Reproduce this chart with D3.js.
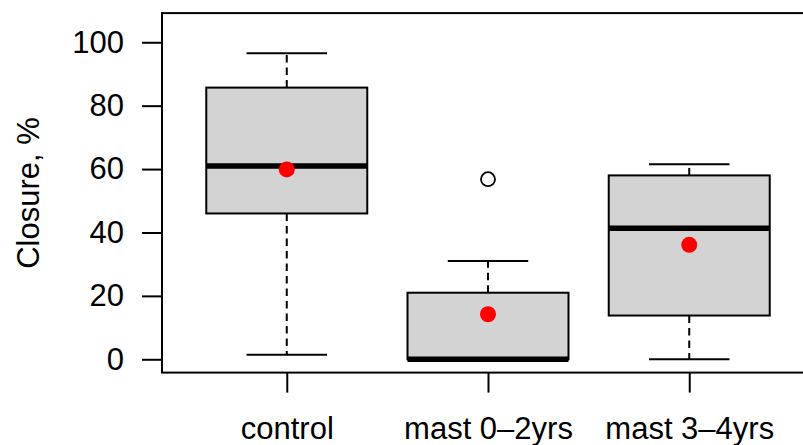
<!DOCTYPE html>
<html>
<head>
<meta charset="utf-8">
<script src="https://cdn.jsdelivr.net/npm/d3@7"></script>
<style>
  body { margin: 0; background: #fff; }
  text { font-family: "Liberation Sans", Arial, sans-serif; fill: #000; }
</style>
</head>
<body>
<div id="chart"></div>
<script>
// groups and summary stats
const categories = ['control', 'mast 0–2yrs', 'mast 3–4yrs'];
const lowerWhisker = [1.4, 0, 0];
const q1 = [46, 0, 13.8];
const median = [61, 0, 41.3];
const q3 = [85.7, 21, 58];
const upperWhisker = [96.5, 31, 61.5];
const means = [59.9, 14.2, 36.1];
const outlierGroups = ['mast 0–2yrs'];
const outlierValues = [56.8];
const yTicks = [0, 20, 40, 60, 80, 100];

const width = 803, height = 445;
const fontSize = 31;

const svg = d3.select('#chart')
  .append('svg')
  .attr('width', width)
  .attr('height', height);

// R-style axis: categories at 1..n, limits padded by 4%
const x = d3.scaleLinear()
  .domain([0.38, 3.62])
  .range([162, 814]);

const y = d3.scaleLinear()
  .domain([-4.2, 109.2])
  .range([372.6, 13.1]);

const xPos = c => x(categories.indexOf(c) + 1);
const boxHalf = x(1.4) - x(1);
const capHalf = x(1.2) - x(1);

const data = categories.map((c, i) => ({
  cat: c,
  lo: lowerWhisker[i], q1: q1[i], med: median[i], q3: q3[i], hi: upperWhisker[i], mean: means[i]
}));

const g = svg.append('g');

// whiskers (dashed)
g.selectAll('.whisk-lo')
  .data(data)
  .enter().append('line')
  .attr('x1', d => xPos(d.cat)).attr('x2', d => xPos(d.cat))
  .attr('y1', d => y(d.q1)).attr('y2', d => y(d.lo))
  .attr('stroke', '#000').attr('stroke-width', 2)
  .attr('stroke-dasharray', '7.5,5');

g.selectAll('.whisk-hi')
  .data(data)
  .enter().append('line')
  .attr('x1', d => xPos(d.cat)).attr('x2', d => xPos(d.cat))
  .attr('y1', d => y(d.q3)).attr('y2', d => y(d.hi))
  .attr('stroke', '#000').attr('stroke-width', 2)
  .attr('stroke-dasharray', '7.5,5');

// staples
['lo', 'hi'].forEach(k => {
  g.selectAll('.cap-' + k)
    .data(data)
    .enter().append('line')
    .attr('x1', d => xPos(d.cat) - capHalf).attr('x2', d => xPos(d.cat) + capHalf)
    .attr('y1', d => y(d[k])).attr('y2', d => y(d[k]))
    .attr('stroke', '#000').attr('stroke-width', 2);
});

// boxes
g.selectAll('.box')
  .data(data)
  .enter().append('rect')
  .attr('x', d => xPos(d.cat) - boxHalf)
  .attr('width', boxHalf * 2)
  .attr('y', d => y(d.q3))
  .attr('height', d => y(d.q1) - y(d.q3))
  .attr('fill', '#d3d3d3')
  .attr('stroke', '#000')
  .attr('stroke-width', 2);

// medians
g.selectAll('.median')
  .data(data)
  .enter().append('line')
  .attr('x1', d => xPos(d.cat) - boxHalf).attr('x2', d => xPos(d.cat) + boxHalf)
  .attr('y1', d => y(d.med)).attr('y2', d => y(d.med))
  .attr('stroke', '#000').attr('stroke-width', 5.5);

// outliers
g.selectAll('.outlier')
  .data(outlierValues)
  .enter().append('circle')
  .attr('cx', (d, i) => xPos(outlierGroups[i]))
  .attr('cy', d => y(d))
  .attr('r', 7)
  .attr('fill', 'none')
  .attr('stroke', '#000')
  .attr('stroke-width', 1.8);

// means
g.selectAll('.mean')
  .data(data)
  .enter().append('circle')
  .attr('cx', d => xPos(d.cat))
  .attr('cy', d => y(d.mean))
  .attr('r', 8)
  .attr('fill', '#ff0000');

// frame
svg.append('rect')
  .attr('x', 162).attr('y', 13.1)
  .attr('width', 652).attr('height', 372.6 - 13.1)
  .attr('fill', 'none')
  .attr('stroke', '#000')
  .attr('stroke-width', 2);

// y axis
const yAxis = svg.append('g')
  .attr('transform', 'translate(162,0)')
  .call(d3.axisLeft(y).tickValues(yTicks).tickSize(20).tickPadding(18));
yAxis.select('.domain').remove();
yAxis.selectAll('.tick line').attr('stroke', '#000').attr('stroke-width', 2);
yAxis.selectAll('.tick text')
  .attr('font-size', fontSize)
  .attr('font-family', '"Liberation Sans", Arial, sans-serif')
  .attr('fill', '#000');

// x axis
const xAxis = svg.append('g')
  .attr('transform', 'translate(0,372.6)')
  .call(d3.axisBottom(x).tickValues([1, 2, 3]).tickSize(20).tickPadding(24)
    .tickFormat(d => categories[d - 1]));
xAxis.select('.domain').remove();
xAxis.selectAll('.tick line').attr('stroke', '#000').attr('stroke-width', 2);
xAxis.selectAll('.tick text')
  .attr('font-size', fontSize)
  .attr('font-family', '"Liberation Sans", Arial, sans-serif')
  .attr('fill', '#000');

// y label
svg.append('text')
  .attr('transform', 'translate(39,193) rotate(-90)')
  .attr('text-anchor', 'middle')
  .attr('font-size', fontSize)
  .text('Closure, %');
</script>
</body>
</html>
